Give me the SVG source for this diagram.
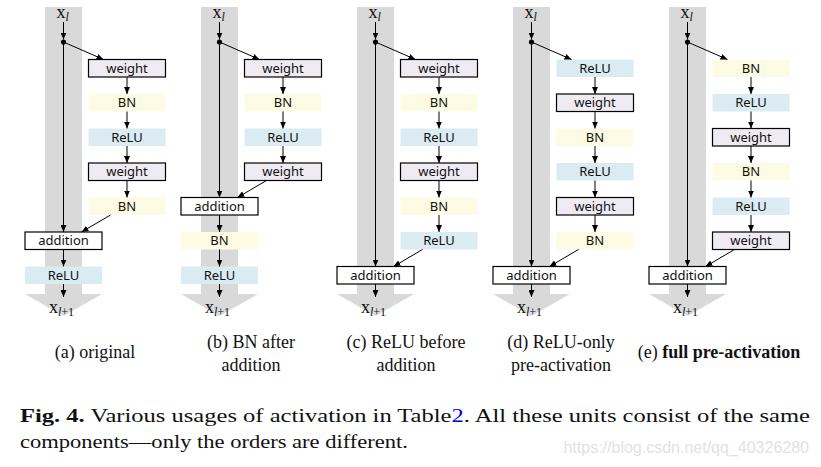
<svg xmlns="http://www.w3.org/2000/svg" width="821" height="467" viewBox="0 0 821 467">
<defs>
<marker id="ah" markerUnits="userSpaceOnUse" markerWidth="7" markerHeight="6" refX="7" refY="3" orient="auto">
<path d="M0,0 L7,3 L0,6 z" fill="#000"/>
</marker>
</defs>
<style>
.bar{fill:#d9d9d9}
.bn{fill:#fdfbe4}
.relu{fill:#dbebf2}
.wt{fill:#efebf3;stroke:#000;stroke-width:1.2}
.add{fill:#fff;stroke:#000;stroke-width:1.2}
.lbl{font-family:"Noto Sans","Open Sans",sans-serif;font-size:13px;text-anchor:middle;fill:#111}
.c{fill:none;stroke:#000;stroke-width:1;marker-end:url(#ah)}
.x{font-family:"Liberation Serif",serif;font-size:18px;fill:#111}
.sub{font-size:12px}
.cap{font-family:"Liberation Serif",serif;font-size:18px;text-anchor:middle;fill:#111}
.fig{font-family:"Liberation Serif",serif;font-size:19px;fill:#111}
</style>
<rect width="821" height="467" fill="#fff"/>

<g id="shafts">
<rect class="bar" x="45" y="7" width="37" height="287"/><polygon class="bar" points="25,294 102,294 63.5,316"/>
<rect class="bar" x="201" y="7" width="37" height="287"/><polygon class="bar" points="181,294 258,294 219.5,316"/>
<rect class="bar" x="357" y="7" width="37" height="287"/><polygon class="bar" points="337,294 414,294 375.5,316"/>
<rect class="bar" x="513" y="7" width="37" height="287"/><polygon class="bar" points="493,294 570,294 531.5,316"/>
<rect class="bar" x="669" y="7" width="37" height="287"/><polygon class="bar" points="649,294 726,294 687.5,316"/>
</g>

<g id="col-a">
<g id="a-weight1"><rect class="wt" x="88.5" y="59.5" width="77" height="17.5"/><text class="lbl" x="127" y="72.5">weight</text></g>
<g id="a-bn1"><rect class="bn" x="88.5" y="94" width="77" height="17.5"/><text class="lbl" x="127" y="107">BN</text></g>
<g id="a-relu1"><rect class="relu" x="88.5" y="128.5" width="77" height="17.5"/><text class="lbl" x="127" y="141.5">ReLU</text></g>
<g id="a-weight2"><rect class="wt" x="88.5" y="163" width="77" height="17.5"/><text class="lbl" x="127" y="176">weight</text></g>
<g id="a-bn2"><rect class="bn" x="88.5" y="197.5" width="77" height="17.5"/><text class="lbl" x="127" y="210.5">BN</text></g>
<g id="a-add"><rect class="add" x="25" y="232" width="77" height="17.5"/><text class="lbl" x="63.5" y="245">addition</text></g>
<g id="a-relu2"><rect class="relu" x="25" y="266.5" width="77" height="17.5"/><text class="lbl" x="63.5" y="279.5">ReLU</text></g>
</g>

<g id="col-b">
<g id="b-weight1"><rect class="wt" x="244.5" y="59.5" width="77" height="17.5"/><text class="lbl" x="283" y="72.5">weight</text></g>
<g id="b-bn1"><rect class="bn" x="244.5" y="94" width="77" height="17.5"/><text class="lbl" x="283" y="107">BN</text></g>
<g id="b-relu1"><rect class="relu" x="244.5" y="128.5" width="77" height="17.5"/><text class="lbl" x="283" y="141.5">ReLU</text></g>
<g id="b-weight2"><rect class="wt" x="244.5" y="163" width="77" height="17.5"/><text class="lbl" x="283" y="176">weight</text></g>
<g id="b-add"><rect class="add" x="181" y="197.5" width="77" height="17.5"/><text class="lbl" x="219.5" y="210.5">addition</text></g>
<g id="b-bn2"><rect class="bn" x="181" y="232" width="77" height="17.5"/><text class="lbl" x="219.5" y="245">BN</text></g>
<g id="b-relu2"><rect class="relu" x="181" y="266.5" width="77" height="17.5"/><text class="lbl" x="219.5" y="279.5">ReLU</text></g>
</g>

<g id="col-c">
<g id="c-weight1"><rect class="wt" x="400.5" y="59.5" width="77" height="17.5"/><text class="lbl" x="439" y="72.5">weight</text></g>
<g id="c-bn1"><rect class="bn" x="400.5" y="94" width="77" height="17.5"/><text class="lbl" x="439" y="107">BN</text></g>
<g id="c-relu1"><rect class="relu" x="400.5" y="128.5" width="77" height="17.5"/><text class="lbl" x="439" y="141.5">ReLU</text></g>
<g id="c-weight2"><rect class="wt" x="400.5" y="163" width="77" height="17.5"/><text class="lbl" x="439" y="176">weight</text></g>
<g id="c-bn2"><rect class="bn" x="400.5" y="197.5" width="77" height="17.5"/><text class="lbl" x="439" y="210.5">BN</text></g>
<g id="c-relu2"><rect class="relu" x="400.5" y="232" width="77" height="17.5"/><text class="lbl" x="439" y="245">ReLU</text></g>
<g id="c-add"><rect class="add" x="337" y="266.5" width="77" height="17.5"/><text class="lbl" x="375.5" y="279.5">addition</text></g>
</g>

<g id="col-d">
<g id="d-relu1"><rect class="relu" x="556.5" y="59.5" width="77" height="17.5"/><text class="lbl" x="595" y="72.5">ReLU</text></g>
<g id="d-weight1"><rect class="wt" x="556.5" y="94" width="77" height="17.5"/><text class="lbl" x="595" y="107">weight</text></g>
<g id="d-bn1"><rect class="bn" x="556.5" y="128.5" width="77" height="17.5"/><text class="lbl" x="595" y="141.5">BN</text></g>
<g id="d-relu2"><rect class="relu" x="556.5" y="163" width="77" height="17.5"/><text class="lbl" x="595" y="176">ReLU</text></g>
<g id="d-weight2"><rect class="wt" x="556.5" y="197.5" width="77" height="17.5"/><text class="lbl" x="595" y="210.5">weight</text></g>
<g id="d-bn2"><rect class="bn" x="556.5" y="232" width="77" height="17.5"/><text class="lbl" x="595" y="245">BN</text></g>
<g id="d-add"><rect class="add" x="493" y="266.5" width="77" height="17.5"/><text class="lbl" x="531.5" y="279.5">addition</text></g>
</g>

<g id="col-e">
<g id="e-bn1"><rect class="bn" x="712.5" y="59.5" width="77" height="17.5"/><text class="lbl" x="751" y="72.5">BN</text></g>
<g id="e-relu1"><rect class="relu" x="712.5" y="94" width="77" height="17.5"/><text class="lbl" x="751" y="107">ReLU</text></g>
<g id="e-weight1"><rect class="wt" x="712.5" y="128.5" width="77" height="17.5"/><text class="lbl" x="751" y="141.5">weight</text></g>
<g id="e-bn2"><rect class="bn" x="712.5" y="163" width="77" height="17.5"/><text class="lbl" x="751" y="176">BN</text></g>
<g id="e-relu2"><rect class="relu" x="712.5" y="197.5" width="77" height="17.5"/><text class="lbl" x="751" y="210.5">ReLU</text></g>
<g id="e-weight2"><rect class="wt" x="712.5" y="232" width="77" height="17.5"/><text class="lbl" x="751" y="245">weight</text></g>
<g id="e-add"><rect class="add" x="649" y="266.5" width="77" height="17.5"/><text class="lbl" x="687.5" y="279.5">addition</text></g>
</g>

<g id="connectors">
<path class="c" d="M63.5,22 V39.5"/><circle cx="63.5" cy="42" r="2.6"/>
<path class="c" d="M63.5,42 L103.5,59.5"/>
<path class="c" d="M127,77 V94"/><path class="c" d="M127,111.5 V128.5"/><path class="c" d="M127,146 V163"/><path class="c" d="M127,180.5 V197.5"/>
<path class="c" d="M63.5,42 V232"/>
<path class="c" d="M110.5,215 L81.5,232"/>
<path class="c" d="M63.5,249.5 V266.5"/><path class="c" d="M63.5,284 V297"/>

<path class="c" d="M219.5,22 V39.5"/><circle cx="219.5" cy="42" r="2.6"/>
<path class="c" d="M219.5,42 L259.5,59.5"/>
<path class="c" d="M283,77 V94"/><path class="c" d="M283,111.5 V128.5"/><path class="c" d="M283,146 V163"/>
<path class="c" d="M219.5,42 V197.5"/>
<path class="c" d="M266.5,180.5 L237.5,197.5"/>
<path class="c" d="M219.5,215 V232"/><path class="c" d="M219.5,249.5 V266.5"/><path class="c" d="M219.5,284 V297"/>

<path class="c" d="M375.5,22 V39.5"/><circle cx="375.5" cy="42" r="2.6"/>
<path class="c" d="M375.5,42 L415.5,59.5"/>
<path class="c" d="M439,77 V94"/><path class="c" d="M439,111.5 V128.5"/><path class="c" d="M439,146 V163"/><path class="c" d="M439,180.5 V197.5"/><path class="c" d="M439,215 V232"/>
<path class="c" d="M375.5,42 V266.5"/>
<path class="c" d="M422.5,249.5 L393.5,266.5"/>
<path class="c" d="M375.5,284 V297"/>

<path class="c" d="M531.5,22 V39.5"/><circle cx="531.5" cy="42" r="2.6"/>
<path class="c" d="M531.5,42 L571.5,59.5"/>
<path class="c" d="M595,77 V94"/><path class="c" d="M595,111.5 V128.5"/><path class="c" d="M595,146 V163"/><path class="c" d="M595,180.5 V197.5"/><path class="c" d="M595,215 V232"/>
<path class="c" d="M531.5,42 V266.5"/>
<path class="c" d="M578.5,249.5 L549.5,266.5"/>
<path class="c" d="M531.5,284 V297"/>

<path class="c" d="M687.5,22 V39.5"/><circle cx="687.5" cy="42" r="2.6"/>
<path class="c" d="M687.5,42 L727.5,59.5"/>
<path class="c" d="M751,77 V94"/><path class="c" d="M751,111.5 V128.5"/><path class="c" d="M751,146 V163"/><path class="c" d="M751,180.5 V197.5"/><path class="c" d="M751,215 V232"/>
<path class="c" d="M687.5,42 V266.5"/>
<path class="c" d="M734.5,249.5 L705.5,266.5"/>
<path class="c" d="M687.5,284 V297"/>
</g>

<g id="io-labels">
<text class="x" x="56.5" y="18">x<tspan class="sub" dy="3" font-style="italic">l</tspan></text>
<text class="x" x="212.5" y="18">x<tspan class="sub" dy="3" font-style="italic">l</tspan></text>
<text class="x" x="368.5" y="18">x<tspan class="sub" dy="3" font-style="italic">l</tspan></text>
<text class="x" x="524.5" y="18">x<tspan class="sub" dy="3" font-style="italic">l</tspan></text>
<text class="x" x="680.5" y="18">x<tspan class="sub" dy="3" font-style="italic">l</tspan></text>
<text class="x" x="49" y="313">x<tspan class="sub" dy="3" font-style="italic">l</tspan><tspan class="sub">+1</tspan></text>
<text class="x" x="205" y="313">x<tspan class="sub" dy="3" font-style="italic">l</tspan><tspan class="sub">+1</tspan></text>
<text class="x" x="361" y="313">x<tspan class="sub" dy="3" font-style="italic">l</tspan><tspan class="sub">+1</tspan></text>
<text class="x" x="517" y="313">x<tspan class="sub" dy="3" font-style="italic">l</tspan><tspan class="sub">+1</tspan></text>
<text class="x" x="673" y="313">x<tspan class="sub" dy="3" font-style="italic">l</tspan><tspan class="sub">+1</tspan></text>
</g>

<g id="captions">
<text class="cap" x="95" y="358">(a) original</text>
<text class="cap" x="251" y="348">(b) BN after</text>
<text class="cap" x="251" y="371">addition</text>
<text class="cap" x="406" y="348">(c) ReLU before</text>
<text class="cap" x="406" y="371">addition</text>
<text class="cap" x="561" y="348">(d) ReLU-only</text>
<text class="cap" x="561" y="371">pre-activation</text>
<text class="cap" x="719" y="358">(e) <tspan font-weight="bold">full pre-activation</tspan></text>
</g>

<g id="figure-caption">
<text class="fig" x="20" y="422" textLength="790" lengthAdjust="spacingAndGlyphs"><tspan font-weight="bold">Fig. 4.</tspan> Various usages of activation in Table<tspan fill="#0000ee">2</tspan>. All these units consist of the same</text>
<text class="fig" x="20" y="448" textLength="388" lengthAdjust="spacingAndGlyphs">components—only the orders are different.</text>
<text x="809" y="453" font-family="Liberation Sans, sans-serif" font-size="16" fill="#e2e2e2" text-anchor="end">https://blog.csdn.net/qq_40326280</text>
</g>
</svg>
